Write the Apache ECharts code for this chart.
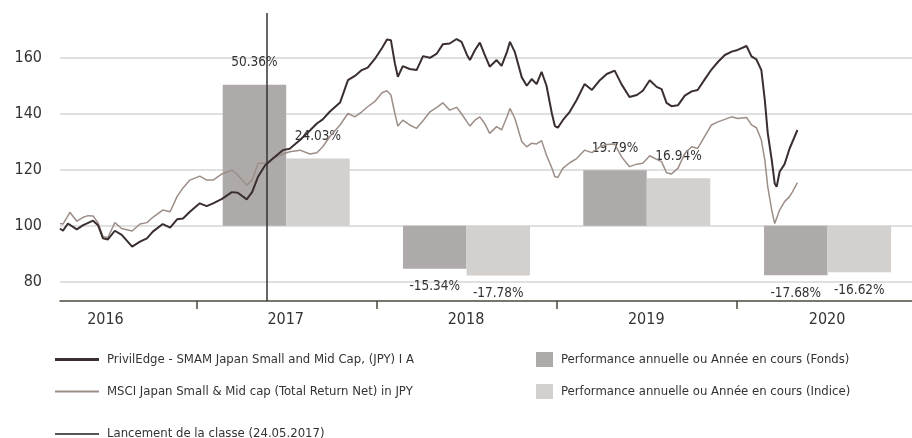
<!DOCTYPE html>
<html>
<head>
<meta charset="utf-8">
<script src="https://cdn.jsdelivr.net/npm/echarts@6/dist/echarts.min.js"></script>
<style>
  html, body { margin: 0; padding: 0; background: #fff; }
  #chart { width: 912px; height: 438px; }
</style>
</head>
<body>
<div id="chart"></div>
<script>
// readings
var dates = [
  '2016-03-31','2016-04-06','2016-04-16','2016-04-20','2016-05-04','2016-05-17','2016-05-27','2016-06-06','2016-06-16','2016-06-26',
  '2016-07-06','2016-07-20','2016-08-03','2016-08-24','2016-09-09','2016-09-23','2016-10-05','2016-10-25','2016-11-09','2016-11-23',
  '2016-12-05','2016-12-19','2017-01-08','2017-01-22','2017-02-04','2017-02-22','2017-03-14','2017-03-26','2017-04-13','2017-04-24',
  '2017-05-06','2017-05-20','2017-06-05','2017-06-25','2017-07-09','2017-07-30','2017-08-19','2017-09-02','2017-09-14','2017-09-28',
  '2017-10-19','2017-11-04','2017-11-18','2017-12-02','2017-12-14','2017-12-28','2018-01-12','2018-01-22','2018-01-30','2018-02-07',
  '2018-02-13','2018-02-23','2018-03-09','2018-03-23','2018-04-05','2018-04-19','2018-05-03','2018-05-15','2018-05-29','2018-06-12',
  '2018-06-22','2018-07-03','2018-07-09','2018-07-19','2018-07-29','2018-08-08','2018-08-18','2018-09-01','2018-09-11','2018-09-22',
  '2018-09-28','2018-10-08','2018-10-22','2018-11-01','2018-11-11','2018-11-21','2018-12-01','2018-12-11','2018-12-22','2018-12-28',
  '2019-01-03','2019-01-13','2019-01-27','2019-02-10','2019-02-26','2019-03-13','2019-03-29','2019-04-12','2019-04-28','2019-05-12',
  '2019-05-28','2019-06-12','2019-06-24','2019-07-08','2019-07-22','2019-08-01','2019-08-11','2019-08-21','2019-09-03','2019-09-17',
  '2019-10-01','2019-10-13','2019-10-27','2019-11-10','2019-11-23','2019-12-07','2019-12-21','2020-01-02','2020-01-20','2020-01-30',
  '2020-02-09','2020-02-19','2020-02-26','2020-03-03','2020-03-11','2020-03-17','2020-03-21','2020-03-27','2020-04-06','2020-04-16',
  '2020-04-22','2020-05-02'
];
var fundValues = [
  99.0, 98.2, 100.8, 100.3, 98.7, 100.2, 101.0, 101.8, 100.2, 95.5,
  95.1, 98.2, 96.7, 92.5, 94.3, 95.5, 97.9, 100.6, 99.3, 102.3,
  102.6, 105.0, 108.0, 107.0, 108.0, 109.6, 112.0, 111.8, 109.4, 112.0,
  117.5, 121.5, 124.0, 127.0, 127.5, 130.6, 134.0, 136.5, 138.0, 140.7,
  144.0, 152.0, 153.5, 155.6, 156.5, 159.5, 163.5, 166.5, 166.3, 158.0,
  153.2, 157.0, 156.0, 155.6, 160.6, 160.0, 161.5, 164.8, 165.1, 166.7,
  165.7, 161.0, 159.2, 162.7, 165.4, 161.0, 156.8, 159.2, 157.1, 162.1,
  165.7, 162.0, 153.0, 150.0, 152.4, 150.6, 155.0, 150.0, 140.0, 135.6,
  135.0, 137.7, 140.7, 144.9, 150.6, 148.5, 152.0, 154.2, 155.4, 150.5,
  146.0, 146.7, 148.2, 152.0, 149.6, 148.8, 143.9, 142.7, 143.0, 146.5,
  148.0, 148.5, 152.2, 155.8, 158.5, 161.0, 162.2, 162.8, 164.2, 160.5,
  159.4, 155.6, 144.9, 133.0, 123.5, 115.1, 113.9, 119.3, 122.0, 127.5,
  130.0, 134.2
];
var indexValues = [
  100.8, 100.6, 103.5, 104.8, 101.6, 103.0, 103.6, 103.5, 101.0, 96.1,
  95.8, 101.1, 99.0, 98.1, 100.6, 101.1, 103.0, 105.6, 105.0, 110.4,
  113.5, 116.3, 117.7, 116.3, 116.3, 118.5, 119.9, 118.1, 114.5, 116.3,
  122.3, 122.3, 124.0, 125.6, 126.4, 127.0, 125.6, 126.1, 128.2, 131.8,
  136.0, 140.1, 138.9, 140.7, 142.5, 144.3, 147.5, 148.2, 146.7, 140.1,
  135.6, 137.7, 136.0, 134.8, 137.5, 140.7, 142.3, 143.9, 141.3, 142.3,
  140.0, 137.1, 135.6, 137.7, 138.9, 136.5, 133.0, 135.4, 134.2, 138.9,
  141.9, 138.3, 130.0, 128.2, 129.5, 129.2, 130.4, 125.2, 120.5, 117.5,
  117.3, 120.5, 122.5, 124.0, 127.0, 126.1, 128.2, 129.0, 129.2, 124.6,
  121.1, 122.0, 122.3, 125.0, 123.7, 122.9, 118.9, 118.5, 120.5, 125.8,
  128.2, 127.6, 131.8, 136.0, 137.1, 138.0, 138.9, 138.3, 138.7, 136.0,
  135.0, 130.6, 123.5, 113.9, 105.6, 100.8, 100.6, 105.6, 108.6, 110.4,
  112.1, 115.4
];

var barDates = ['2017-07-02', '2018-07-02', '2019-07-02', '2020-07-02'];
var fundPerf = [50.36, -15.34, 19.79, -17.68];
var indexPerf = [24.03, -17.78, 16.94, -16.62];

var yTicks = [80, 100, 120, 140, 160];
var yearTicks = ['2017-01-01', '2018-01-01', '2019-01-01', '2020-01-01'];
var yearLabelDates = ['2016-07-01', '2017-07-01', '2018-07-01', '2019-07-01', '2020-07-01'];
var launchDate = '2017-05-24';
var xStart = '2016-03-31';
var xEnd = '2020-12-20';

var fundName = 'PrivilEdge - SMAM Japan Small and Mid Cap, (JPY) I A';
var indexName = 'MSCI Japan Small & Mid cap (Total Return Net) in JPY';
var launchName = 'Lancement de la classe (24.05.2017)';
var fundBarName = 'Performance annuelle ou Année en cours (Fonds)';
var indexBarName = 'Performance annuelle ou Année en cours (Indice)';

var NARROW = "'Liberation Sans Narrow', 'DejaVu Sans Condensed', 'Arial Narrow', sans-serif";
var YEAR_MS = 365.25 * 86400000;

function ts(s) { return new Date(s).getTime(); }

function pairs(xs, ys) {
  return xs.map(function (x, i) { return [ts(x), ys[i]]; });
}

function barData(perf) {
  return barDates.map(function (d, i) { return [ts(d), 100 + perf[i], perf[i]]; });
}

function barRenderer(side) {
  return function (params, api) {
    var t = api.value(0);
    var pct = api.value(2);
    var base = api.coord([t, 100]);
    var end = api.coord([t, 100 + pct]);
    var w = api.size([YEAR_MS * 0.352, 0])[0];
    var x0 = side < 0 ? base[0] - w : base[0];
    var top = Math.min(base[1], end[1]);
    var h = Math.abs(base[1] - end[1]);
    var ly = pct >= 0 ? end[1] - 22 : end[1] + 18;
    return {
      type: 'group',
      children: [
        { type: 'rect', shape: { x: x0, y: top, width: w, height: h }, style: { fill: api.visual('color') } },
        { type: 'text', z2: 10, style: {
            text: pct.toFixed(2) + '%', x: x0 + w / 2, y: ly,
            align: 'center', verticalAlign: 'middle',
            fill: '#333', fontSize: 13.5, fontFamily: NARROW
        } }
      ]
    };
  };
}

var chart = echarts.init(document.getElementById('chart'));

var legendText = { color: '#333', fontSize: 13, fontFamily: NARROW, padding: [0, 0, 0, 3] };

var option = {
  animation: false,
  grid: { left: 60, right: 0, top: 13, bottom: 137 },
  legend: [
    { data: [{ name: fundName, icon: 'rect' }], left: 50, top: 348, itemWidth: 44, itemHeight: 3,
      textStyle: legendText, selectedMode: false },
    { data: [{ name: indexName, icon: 'rect' }], left: 50, top: 380, itemWidth: 44, itemHeight: 2,
      textStyle: legendText, selectedMode: false },
    { data: [{ name: launchName, icon: 'rect' }], left: 50, top: 422.5, itemWidth: 44, itemHeight: 2,
      textStyle: legendText, selectedMode: false },
    { data: [{ name: fundBarName, icon: 'rect' }, { name: indexBarName, icon: 'rect' }],
      orient: 'vertical', left: 531, top: 347, itemWidth: 17, itemHeight: 15, itemGap: 17,
      textStyle: legendText, selectedMode: false }
  ],
  xAxis: {
    type: 'value',
    min: ts(xStart),
    max: ts(xEnd),
    axisLine: { lineStyle: { color: '#4a4a3c', width: 1.5 } },
    axisTick: { show: true, customValues: yearTicks.map(ts), length: 8, lineStyle: { color: '#4a4a3c', width: 1.5 } },
    axisLabel: {
      customValues: yearLabelDates.map(ts),
      formatter: function (v) { return String(new Date(v).getUTCFullYear()); },
      color: '#333', fontSize: 16, fontFamily: NARROW, margin: 11
    },
    splitLine: { show: false }
  },
  yAxis: {
    type: 'value',
    min: 73.1,
    max: 176,
    axisLine: { show: false },
    axisTick: { show: false, customValues: yTicks },
    axisLabel: { customValues: yTicks, color: '#333', fontSize: 16, fontFamily: NARROW, margin: 18, padding: [0, 0, 9, 0] },
    splitLine: { show: true, lineStyle: { color: '#d6d6d6', width: 1.5 } }
  },
  series: [
    {
      name: fundBarName, type: 'custom', renderItem: barRenderer(-1),
      itemStyle: { color: '#aeaaa9' }, encode: { x: 0, y: 1 }, data: barData(fundPerf), silent: true
    },
    {
      name: indexBarName, type: 'custom', renderItem: barRenderer(1),
      itemStyle: { color: '#d4d0cd' }, encode: { x: 0, y: 1 }, data: barData(indexPerf), silent: true
    },
    {
      name: indexName, type: 'line', data: pairs(dates, indexValues),
      showSymbol: false, symbol: 'none', silent: true,
      itemStyle: { color: '#9c8e87' }, lineStyle: { color: '#9c8e87', width: 1.5 }
    },
    {
      name: fundName, type: 'line', data: pairs(dates, fundValues),
      showSymbol: false, symbol: 'none', silent: true,
      itemStyle: { color: '#3a2e2e' }, lineStyle: { color: '#3a2e2e', width: 2 }
    },
    {
      name: launchName, type: 'line', data: [],
      itemStyle: { color: '#555' }, lineStyle: { color: '#555', width: 1.5 },
      markLine: {
        silent: true, symbol: ['none', 'none'], label: { show: false },
        lineStyle: { color: '#333', width: 1.5, type: 'solid' },
        data: [{ xAxis: ts(launchDate) }]
      }
    }
  ]
};

chart.setOption(option);
</script>
</body>
</html>
